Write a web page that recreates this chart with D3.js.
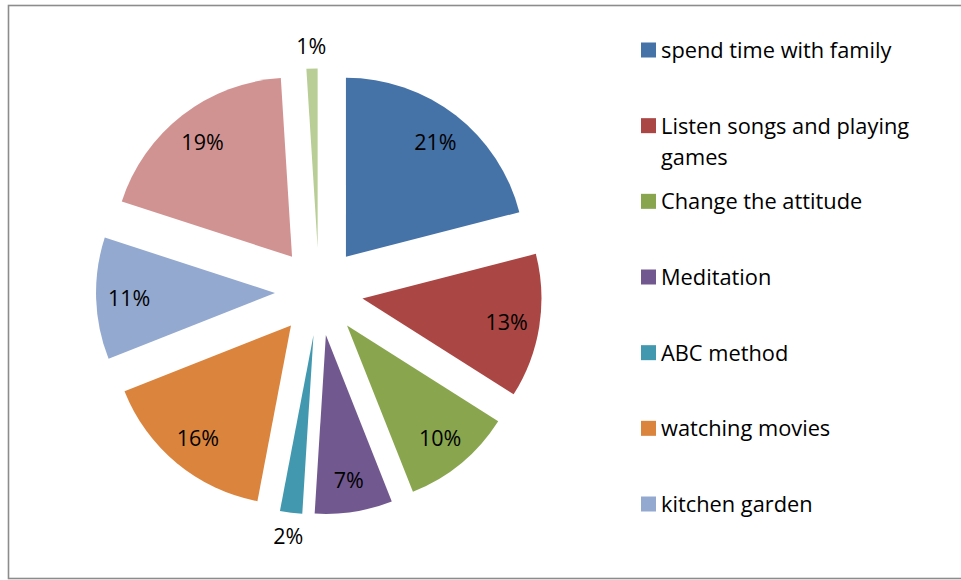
<!DOCTYPE html>
<html>
<head>
<meta charset="utf-8">
<script src="https://cdn.jsdelivr.net/npm/d3@7"></script>
<style>
  html, body { margin: 0; padding: 0; background: #fff; }
  svg { display: block; font-family: "Open Sans", sans-serif; }
</style>
</head>
<body>
<svg id="chart" width="961" height="580"></svg>
<script>
// ---- data ----
const categories = [
  "spend time with family",
  "Listen songs and playing games",
  "Change the attitude",
  "Meditation",
  "ABC method",
  "watching movies",
  "kitchen garden",
  "Other activities",
  "Others"
];
const values = [21, 13, 10, 7, 2, 16, 11, 19, 1];
const colors = ["#4572A7", "#AA4643", "#89A54E", "#71588F", "#4198AF", "#DB843D", "#93A9CF", "#D19392", "#B9CD96"];
const legendShown = 7; // legend is clipped after the 7th entry
const legendLines = [
  ["spend time with family"],
  ["Listen songs and playing", "games"],
  ["Change the attitude"],
  ["Meditation"],
  ["ABC method"],
  ["watching movies"],
  ["kitchen garden"]
];

const svg = d3.select("#chart");

// frame
svg.append("rect")
  .attr("x", 8.5).attr("y", 5.5)
  .attr("width", 980).attr("height", 573)
  .attr("fill", "#fff")
  .attr("stroke", "#8c8c8c").attr("stroke-width", 1.6);

// pie
const cx = 319, cy = 291.5, R = 179, explode = 44;
const total = d3.sum(values);
const data = categories.map((c, i) => ({ name: c, value: values[i], color: colors[i] }));
const pie = d3.pie().value(d => d.value).sort(null);
const arcs = pie(data);
const arc = d3.arc().innerRadius(0).outerRadius(R);

const g = svg.append("g").attr("transform", `translate(${cx},${cy})`);

const slices = g.selectAll("g.slice").data(arcs).enter().append("g")
  .attr("class", "slice")
  .attr("transform", d => {
    const a = (d.startAngle + d.endAngle) / 2;
    return `translate(${explode * Math.sin(a)},${-explode * Math.cos(a)})`;
  });

slices.append("path")
  .attr("d", arc)
  .attr("fill", d => d.data.color);

const fmt = v => Math.round(v / total * 100) + "%";
slices.append("text")
  .attr("transform", d => {
    const a = (d.startAngle + d.endAngle) / 2;
    const small = d.data.value / total < 0.03;
    const rr = small ? R + 23 : 146;
    return `translate(${rr * Math.sin(a)},${-rr * Math.cos(a)})`;
  })
  .attr("text-anchor", "middle")
  .attr("dominant-baseline", "central")
  .attr("font-size", 21.5)
  .attr("fill", "#000")
  .text(d => fmt(d.data.value));

// legend
const lg = svg.append("g");
const rowY = d3.scaleLinear().domain([0, legendShown - 1]).range([50, 504]);
for (let i = 0; i < legendShown; i++) {
  const y = rowY(i);
  lg.append("rect")
    .attr("x", 641).attr("y", y - 7.5)
    .attr("width", 15).attr("height", 15)
    .attr("fill", colors[i]);
  const t = lg.append("text")
    .attr("x", 661).attr("y", y - 1)
    .attr("dominant-baseline", "central")
    .attr("font-size", 21.8)
    .attr("fill", "#000");
  legendLines[i].forEach((ln, k) => {
    t.append("tspan").attr("x", 661).attr("dy", k === 0 ? 0 : 31).text(ln);
  });
}
</script>
</body>
</html>
